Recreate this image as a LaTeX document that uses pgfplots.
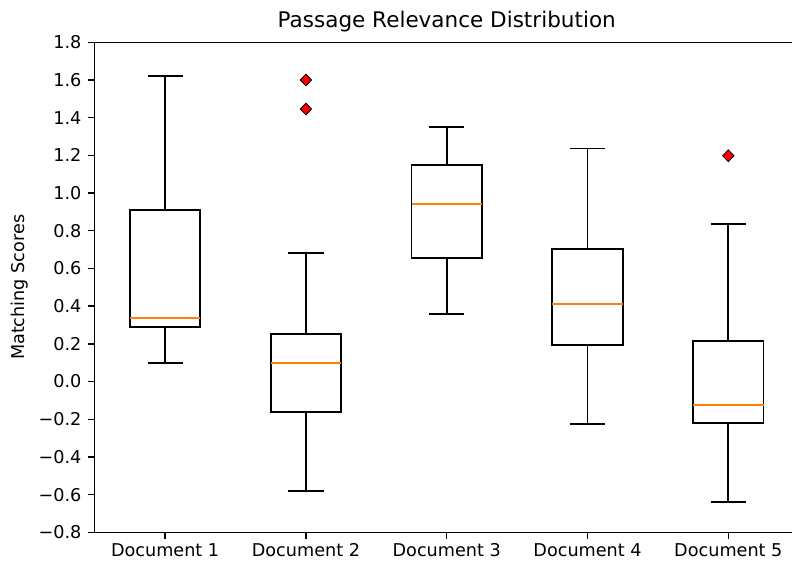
\documentclass[border=0pt]{standalone}
\usepackage{fontspec}
\setmainfont{DejaVu Sans}
\usepackage{pgfplots}
\pgfplotsset{compat=1.18}
\usepgfplotslibrary{statistics}
\definecolor{mplorange}{HTML}{FF7F0E}
\begin{document}
\begin{tikzpicture}
\path[use as bounding box] (0,0) rectangle (570.24pt,403.92pt);
\begin{axis}[
  at={(68.2pt,20.66pt)}, anchor=south west,
  scale only axis, width=506.9pt, height=352.8pt,
  xmin=0.5, xmax=5.5, ymin=-0.8, ymax=1.8,
  clip=false,
  xtick={1,2,3,4,5},
  xticklabels={Document 1,Document 2,Document 3,Document 4,Document 5},
  ytick={-0.8,-0.6,-0.4,-0.2,0,0.2,0.4,0.6,0.8,1.0,1.2,1.4,1.6,1.8},
  yticklabels={−0.8,−0.6,−0.4,−0.2,0.0,0.2,0.4,0.6,0.8,1.0,1.2,1.4,1.6,1.8},
  tick align=outside, xtick pos=lower, ytick pos=left,
  major tick length=4.6pt,
  tick style={black, line width=1pt},
  axis line style={draw=none},
  tick label style={font=\fontsize{12.7}{15}\selectfont},
  yticklabel style={xshift=-1.5pt},
  title={Passage Relevance Distribution},
  title style={at={(axis description cs:0.5,1.0125)}, anchor=base, font=\fontsize{15.5}{18}\selectfont},
  ylabel={Matching Scores},
  every axis y label/.style={at={(axis description cs:-0.1060,0.5)}, rotate=90, anchor=center, font=\fontsize{12.7}{15}\selectfont},
  boxplot/draw direction=y,
  boxplot/box extend=0.5,
  boxplot/whisker extend=0.25,
  boxplot/every box/.style={draw=black, line width=1.3pt},
  boxplot/every whisker/.style={black, line width=1.3pt},
  boxplot/every median/.style={mplorange, line width=1.3pt},
]
\addplot[black, mark=diamond*, mark size=4.2pt, mark options={fill=red, draw=black, line width=0.6pt, xscale=1.3},
  boxplot prepared={draw position=1, lower whisker=0.098, lower quartile=0.288, median=0.336, upper quartile=0.910, upper whisker=1.620}]
  coordinates {};
\addplot[black, mark=diamond*, mark size=4.2pt, mark options={fill=red, draw=black, line width=0.6pt, xscale=1.3},
  boxplot prepared={draw position=2, lower whisker=-0.581, lower quartile=-0.160, median=0.098, upper quartile=0.251, upper whisker=0.680}]
  table[row sep=\\, y index=0] {1.600\\ 1.446\\};
\addplot[black, mark=diamond*, mark size=4.2pt, mark options={fill=red, draw=black, line width=0.6pt, xscale=1.3},
  boxplot prepared={draw position=3, lower whisker=0.357, lower quartile=0.655, median=0.940, upper quartile=1.150, upper whisker=1.352}]
  coordinates {};
\addplot[black, mark=diamond*, mark size=4.2pt, mark options={fill=red, draw=black, line width=0.6pt, xscale=1.3},
  boxplot prepared={draw position=4, lower whisker=-0.227, lower quartile=0.192, median=0.413, upper quartile=0.703, upper whisker=1.237}]
  coordinates {};
\addplot[black, mark=diamond*, mark size=4.2pt, mark options={fill=red, draw=black, line width=0.6pt, xscale=1.3},
  boxplot prepared={draw position=5, lower whisker=-0.638, lower quartile=-0.218, median=-0.123, upper quartile=0.213, upper whisker=0.834}]
  table[row sep=\\, y index=0] {1.198\\};
\draw[black, line width=1pt] (rel axis cs:1.02,1) -- (rel axis cs:0,1) -- (rel axis cs:0,0) -- (rel axis cs:1.02,0);
\end{axis}
\end{tikzpicture}
\end{document}
